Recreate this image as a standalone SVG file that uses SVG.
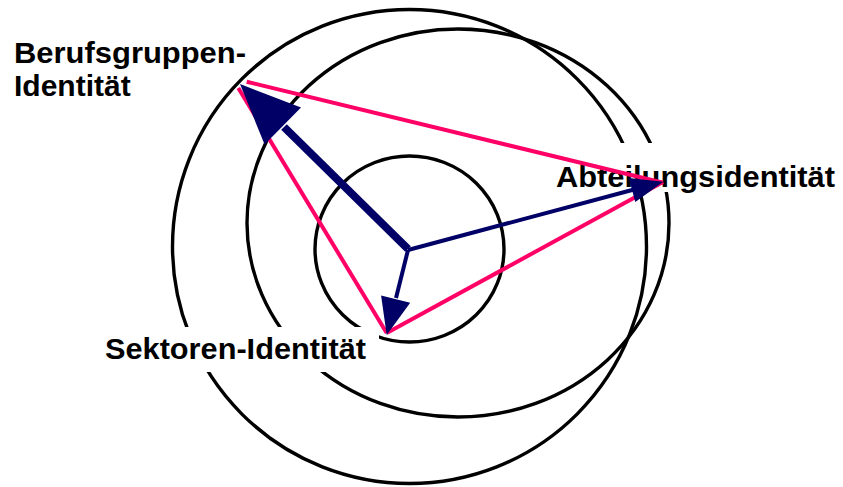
<svg xmlns="http://www.w3.org/2000/svg" width="843" height="487" viewBox="0 0 843 487">
<style>
.ring{fill:none;stroke:#000;stroke-width:3.4}
.lbl{font-family:"Liberation Sans",Arial,sans-serif;font-weight:bold;font-size:30px;fill:#000}
.bg{fill:#fff}
.tri{stroke:#FF0066;stroke-width:4;stroke-linecap:butt;fill:none}
.shaft{stroke:#000066;fill:none}
.head{fill:#000066}
</style>
<rect width="843" height="487" fill="#fff"/>
<g id="rings">
<circle class="ring" cx="409.5" cy="246.5" r="237"/>
<ellipse class="ring" cx="458" cy="223" rx="211" ry="194"/>
<ellipse class="ring" cx="409.5" cy="249" rx="94.5" ry="93"/>
</g>
<g id="node-berufsgruppen">
<text class="lbl" x="14" y="63" textLength="232" lengthAdjust="spacingAndGlyphs">Berufsgruppen-</text>
<text class="lbl" x="14" y="96">Identität</text>
</g>
<g id="node-abteilung">
<rect class="bg" x="550" y="143" width="293" height="49"/>
<text class="lbl" x="556" y="186.5" textLength="279" lengthAdjust="spacingAndGlyphs">Abteilungsidentität</text>
</g>
<g id="node-sektoren">
<rect class="bg" x="100" y="327" width="279" height="45"/>
<text class="lbl" x="105" y="359" textLength="261" lengthAdjust="spacingAndGlyphs">Sektoren-Identität</text>
</g>
<g id="connectors">
<line class="tri" x1="246.7" y1="81.7" x2="663" y2="182.7"/>
<line class="tri" x1="238.3" y1="88" x2="386.7" y2="333"/>
<line class="tri" x1="386.7" y1="333" x2="663" y2="182"/>
<line class="shaft" stroke-width="8" x1="408" y1="249" x2="284" y2="127"/>
<polygon class="head" points="240,84 301,107.5 264.6,144.5"/>
<line class="shaft" stroke-width="4" x1="408" y1="250" x2="634" y2="189.5"/>
<polygon class="head" points="663.3,181.7 635.3,202 628.8,178"/>
<line class="shaft" stroke-width="4" x1="408" y1="250" x2="396" y2="298"/>
<polygon class="head" points="386.7,335 410.2,302.7 381.1,295.5"/>
</g>
</svg>
